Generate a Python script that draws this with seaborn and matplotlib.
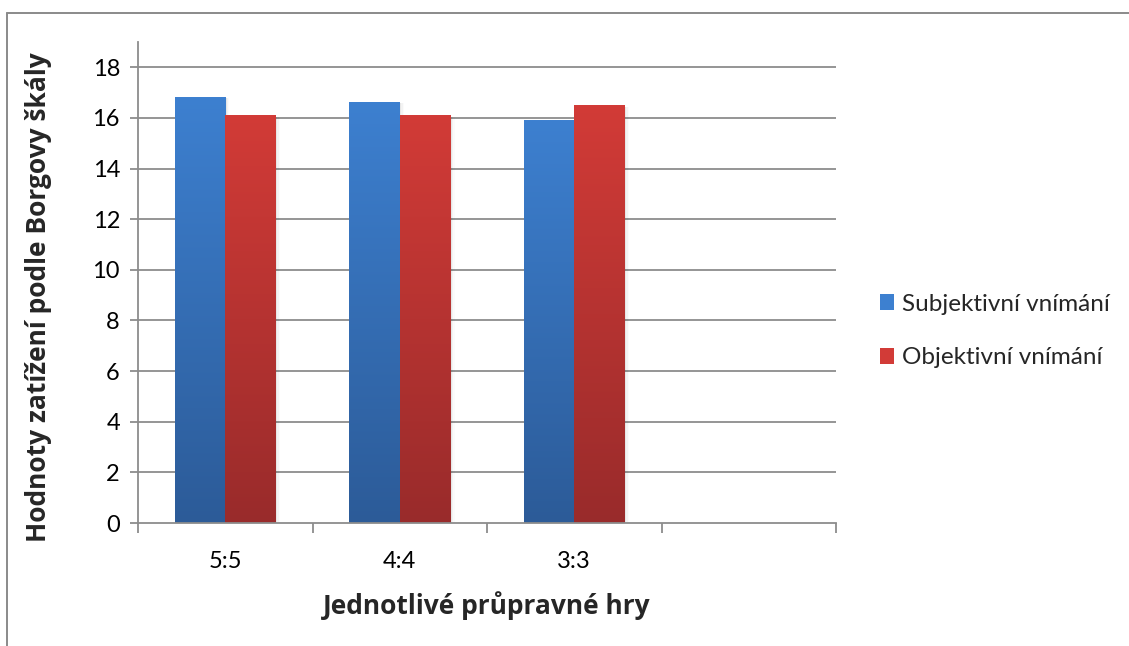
import numpy as np
import pandas as pd
import matplotlib
matplotlib.use("Agg")
import matplotlib.pyplot as plt
from matplotlib.colors import LinearSegmentedColormap
from matplotlib.lines import Line2D
from matplotlib.patches import Rectangle
import seaborn as sns

# Borg scale load values per practice game
games = ["5:5", "4:4", "3:3", ""]
subjective = [16.82, 16.63, 15.9, np.nan]
objective = [16.1, 16.1, 16.5, np.nan]
series_names = ["Subjektivní vnímání", "Objektivní vnímání"]
y_ticks = [0, 2, 4, 6, 8, 10, 12, 14, 16, 18]

sns.set_theme(style="white")
plt.rcParams["font.family"] = ["Lato", "DejaVu Sans"]

df = pd.DataFrame({
    "hra": games * 2,
    "hodnota": subjective + objective,
    "serie": [series_names[0]] * len(games) + [series_names[1]] * len(games),
})

top_cols = {series_names[0]: "#3d80d0", series_names[1]: "#d23b37"}
bot_cols = {series_names[0]: "#2c5b98", series_names[1]: "#992b2b"}

fig = plt.figure(figsize=(11.29, 6.46), dpi=100)
ax = fig.add_axes([138 / 1129, 1 - 523 / 646, (836 - 138) / 1129, (523 - 42) / 646])

sns.barplot(data=df, x="hra", y="hodnota", hue="serie", order=games,
            hue_order=series_names, palette=top_cols, width=0.58,
            gap=0, ax=ax, legend=False, saturation=1)

# gradient fill on each bar, top colour to bottom colour
for container, name in zip(ax.containers, series_names):
    cmap = LinearSegmentedColormap.from_list(name, [bot_cols[name], top_cols[name]])
    for bar in container:
        h = bar.get_height()
        if not np.isfinite(h) or h <= 0:
            continue
        x0, w = bar.get_x(), bar.get_width()
        # soft shadow to the right of the bar
        for k, a in enumerate([0.05, 0.03, 0.015]):
            d = 0.008 * (k + 1)
            ax.add_patch(Rectangle((x0 + d, 0), w, h - 0.05,
                                   facecolor="black", alpha=a, lw=0, zorder=1.5))
        grad = np.linspace(0, 1, 256).reshape(-1, 1)
        im = ax.imshow(grad, cmap=cmap, aspect="auto", origin="lower",
                       extent=(x0, x0 + w, 0, h), zorder=2.5)
        im.set_clip_path(bar)
        bar.set_zorder(2.4)
        bar.set_edgecolor("none")

ax.set_xlim(-0.5, len(games) - 0.5)
ax.set_ylim(0, 19)
ax.set_yticks(y_ticks)

grid_col = "#8c8c8c"
for t in y_ticks[1:]:
    ax.axhline(t, color=grid_col, lw=1.3, zorder=1)

for side in ["top", "right"]:
    ax.spines[side].set_visible(False)
for side in ["left", "bottom"]:
    ax.spines[side].set_color(grid_col)
    ax.spines[side].set_linewidth(1.3)

ax.tick_params(axis="y", direction="out", length=6, width=1.3, color=grid_col,
               left=True, labelsize=17, pad=7, labelcolor="black")
ax.set_xticks(np.arange(len(games)))
ax.set_xticklabels(games)
ax.tick_params(axis="x", length=0, labelsize=17, pad=20, labelcolor="black")
ax.set_xticks(np.arange(len(games) + 1) - 0.5, minor=True)
ax.tick_params(axis="x", which="minor", direction="out", length=7, width=1.3,
               color=grid_col, bottom=True)

label_font = dict(family=["Open Sans", "DejaVu Sans"], fontsize=19,
                  fontweight="bold")
ax.set_ylabel("Hodnoty zatížení podle Borgovy škály", labelpad=29, **label_font)
ax.yaxis.label.set_y(0.47)
ax.set_xlabel("Jednotlivé průpravné hry", labelpad=14, **label_font)

handles = [Rectangle((0, 0), 1, 1, facecolor=top_cols[n], edgecolor="none")
           for n in series_names]
fig.legend(handles, series_names, loc="center left",
           bbox_to_anchor=(858 / 1129, 1 - 331 / 646), frameon=False,
           fontsize=17.5, handlelength=0.6, handleheight=0.6,
           handletextpad=0.3, labelspacing=1.35)

# chart area border
fig.add_artist(Line2D([6.5 / 1129, 6.5 / 1129], [0, 1 - 12.5 / 646],
                      transform=fig.transFigure, color="#8a8a8a", lw=1.4))
fig.add_artist(Line2D([6.5 / 1129, 1], [1 - 12.5 / 646, 1 - 12.5 / 646],
                      transform=fig.transFigure, color="#8a8a8a", lw=1.4))

fig.savefig("out.png", dpi=100, facecolor="white")
